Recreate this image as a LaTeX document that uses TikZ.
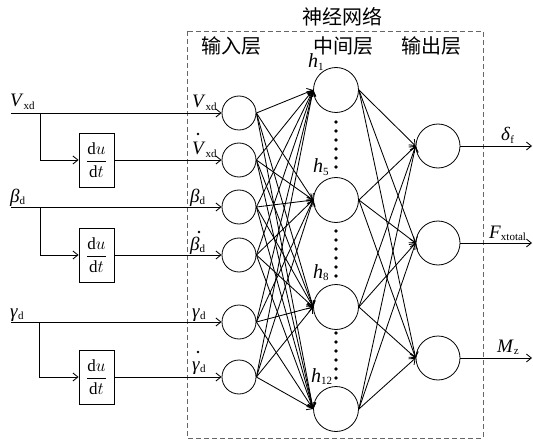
\documentclass[tikz,border=0pt]{standalone}
\usepackage{fontspec}
\setmainfont{Liberation Serif}
\newfontfamily\cjk{Noto Sans CJK SC}
\usetikzlibrary{arrows.meta}
\tikzset{
  arr/.style={-{Straight Barb[length=5pt,width=8pt]}, line width=0.85pt},
  inn/.style={circle, draw, line width=0.8pt, minimum size=34pt, inner sep=0pt},
  hid/.style={circle, draw, line width=0.8pt, minimum size=45pt, inner sep=0pt},
  outn/.style={circle, draw, line width=0.8pt, minimum size=44pt, inner sep=0pt},
  diffbox/.style={draw, line width=0.8pt, minimum width=35pt, minimum height=54pt, inner sep=0pt},
  lab/.style={anchor=base west, inner sep=0pt, font=\fontsize{19}{22}\selectfont},
  hlab/.style={anchor=base west, inner sep=0pt, font=\fontsize{20}{22}\selectfont},
  zh/.style={inner sep=0pt, font=\cjk\fontsize{20}{22}\selectfont},
  dotpt/.style={fill, circle, inner sep=0pt, minimum size=3.8pt},
  accdot/.style={fill, circle, inner sep=0pt, minimum size=2.8pt},
  frame/.style={draw=black!60, dash pattern=on 5pt off 3pt, line width=0.9pt}
}
\newcommand{\sbs}[1]{\raisebox{-0.3ex}{\fontsize{11}{12}\selectfont #1}}
\newcommand{\dudt}{\fontsize{17}{20}\selectfont$\displaystyle\frac{\mathrm{d}u}{\mathrm{d}t}$}
\begin{document}
\begin{tikzpicture}[x=1pt,y=-1pt]
\useasboundingbox (0,0) rectangle (533,441);
% frame and titles
\draw[frame] (187,31) rectangle (483,438);
\node[zh] (title) at (342,17) {神经网络};
\node[zh] (l1) at (231,46) {输入层};
\node[zh] (l2) at (343,46) {中间层};
\node[zh] (l3) at (431,46) {输出层};
% input nodes
\node[inn] (i1) at (239,113) {};
\node[inn] (i2) at (239,160) {};
\node[inn] (i3) at (239,207) {};
\node[inn] (i4) at (239,255) {};
\node[inn] (i5) at (239,322) {};
\node[inn] (i6) at (239,377) {};
% hidden nodes
\node[hid] (h1) at (336,90) {};
\node[hid] (h5) at (336,200) {};
\node[hid] (h8) at (336,307) {};
\node[hid] (h12) at (336,409) {};
% output nodes
\node[outn] (o1) at (438,146) {};
\node[outn] (o2) at (438,243) {};
\node[outn] (o3) at (438,358) {};
% derivative boxes
\node[diffbox] (d1) at (96.5,160) {\dudt};
\node[diffbox] (d2) at (96.5,255) {\dudt};
\node[diffbox] (d3) at (96.5,377) {\dudt};
% input signal lines
\coordinate (s1) at (11,113); \coordinate (b1) at (40,113);
\coordinate (s2) at (11,207); \coordinate (b2) at (40,207);
\coordinate (s3) at (11,322); \coordinate (b3) at (39,322);
\draw[arr] (s1) -- (i1.west);
\draw[arr] (b1) |- (d1.west);
\draw[arr] (d1.east) -- (i2.west);
\draw[arr] (s2) -- (i3.west);
\draw[arr] (b2) |- (d2.west);
\draw[arr] (d2.east) -- (i4.west);
\draw[arr] (s3) -- (i5.west);
\draw[arr] (b3) |- (d3.west);
\draw[arr] (d3.east) -- (i6.west);
% left labels
\node[lab] (ls1) at (10,107) {\textit{V}\sbs{xd}};
\node[lab] (ls2) at (10,202) {\textit{β}\sbs{d}};
\node[lab] (ls3) at (10,317) {\textit{γ}\sbs{d}};
% labels at input nodes
\node[lab] (li1) at (192,108) {\textit{V}\sbs{xd}};
\node[lab] (li2) at (192,155) {\textit{V}\sbs{xd}};
\node[lab] (li3) at (190,202) {\textit{β}\sbs{d}};
\node[lab] (li4) at (190,250) {\textit{β}\sbs{d}};
\node[lab] (li5) at (192,317) {\textit{γ}\sbs{d}};
\node[lab] (li6) at (192,370) {\textit{γ}\sbs{d}};
% derivative dots
\node[accdot] (ad1) at (198,134) {};
\node[accdot] (ad2) at (199,232) {};
\node[accdot] (ad3) at (198,352) {};
% input -> hidden
\foreach \i in {1,...,6}
  \foreach \h in {1,5,8,12}
    \draw[arr] (i\i.east) -- (h\h.west);
% hidden -> output
\foreach \h in {1,5,8,12}
  \foreach \o in {1,2,3}
    \draw[arr] (h\h.east) -- (o\o.west);
% hidden labels
\node[hlab] (th1) at (308,68) {\textit{h}\sbs{1}};
\node[hlab] (th5) at (313,173) {\textit{h}\sbs{5}};
\node[hlab] (th8) at (313,278) {\textit{h}\sbs{8}};
\node[hlab] (th12) at (311,382) {\textit{h}\sbs{12}};
% dots
\foreach \y in {0,...,5} {
  \node[dotpt] (da\y) at (336,122+9*\y) {};
  \node[dotpt] (db\y) at (336,231+9*\y) {};
  \node[dotpt] (dc\y) at (336,333+9*\y) {};
}
% outputs
\coordinate (e1) at (532,146);
\coordinate (e2) at (532,243);
\coordinate (e3) at (532,358);
\draw[arr] (o1.east) -- (e1);
\draw[arr] (o2.east) -- (e2);
\draw[arr] (o3.east) -- (e3);
\node[lab] (lo1) at (501,141) {\textit{δ}\sbs{f}};
\node[lab] (lo2) at (489,238) {\textit{F}\sbs{xtotal}};
\node[lab] (lo3) at (497,352) {\textit{M}\sbs{z}};
\end{tikzpicture}
\end{document}
